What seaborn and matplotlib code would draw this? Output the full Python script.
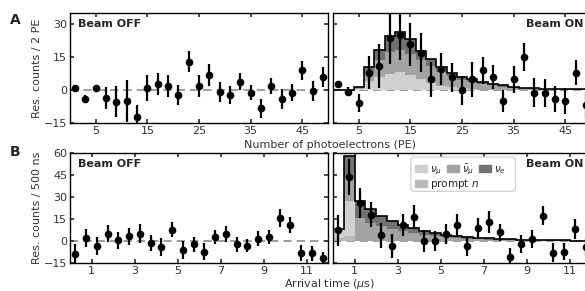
import numpy as np
import pandas as pd
import matplotlib
matplotlib.use("Agg")
import matplotlib.pyplot as plt
import seaborn as sns
from matplotlib.patches import Patch, FancyBboxPatch

# ---- data: photoelectron spectrum (2 PE bins) ----
pe_centers = np.arange(1, 50, 2)
pe_edges = list(range(0, 51, 2))

pe_off = [1, -4, 1, -3.5, -5.3, -5, -12.3, 1, 2.8, 1.8, -2.3, 12.8, 1.8, 6.8, -1, -2.3, 3.8, -1.2, -8.3, 1.8, -4.2, -1.2, 8.9, -0.5, 5.9]
pe_off_err = [0.8, 1.6, 0.8, 5, 7, 9.5, 5.5, 6, 5, 4.8, 4.6, 4.8, 4.8, 4.9, 4.5, 4, 4, 3.5, 4.4, 3.6, 4.5, 4, 4.5, 4.5, 4.5]

pe_on = [2.9, -0.8, -6, 7.9, 10.9, 23.8, 24.8, 20.8, 17, 4.8, 9.7, 5.9, -0.2, 4.8, 8.9, 5.9, -5, 4.8, 15, -1.2, -1.2, -4.2, -5, 7.9, -7]
pe_on_err = [1.2, 2, 4, 7.6, 10, 12, 11.3, 9.8, 8.9, 8, 7.2, 6.6, 6.4, 7.8, 6.2, 5.3, 4.9, 6.3, 6.2, 6.7, 6.4, 5.8, 5.7, 5.8, 6]

pe_numu = [0, 0, 0.6, 4.0, 5.9, 7.3, 8.0, 6.8, 4.8, 3.0, 2.0, 1.2, 0.7, 0.4, 0.2, 0.1, 0, 0, 0, 0, 0, 0, 0, 0, 0]
pe_numubar = [0, 0, 0.4, 3.5, 7.6, 10.2, 10.0, 9.7, 8.7, 8.0, 6.3, 5.0, 3.9, 3.2, 2.6, 2.0, 1.5, 1.0, 0.7, 0.5, 0.4, 0.3, 0.2, 0.2, 0.1]
pe_nue = [0, 0, 0.4, 3.1, 4.7, 7.0, 8.4, 6.5, 4.2, 2.9, 2.2, 1.7, 1.3, 1.2, 1.0, 0.8, 0.6, 0.5, 0.3, 0.3, 0.2, 0.2, 0.2, 0.1, 0.2]

# ---- data: arrival time (500 ns bins) ----
t_centers = np.arange(0.25, 12, 0.5)
t_edges = [i * 0.5 for i in range(25)]

t_off = [-9, 2, -3.3, 5, 0.4, 3.1, 5, -1.5, -4.2, 7.7, -6, -2.2, -7.2, 2.7, 5, -2.2, -3.3, 1.5, 2.7, 15.7, 11, -8.3, -8.3, -11.8]
t_off_err = [7, 6.2, 6, 6, 6, 6, 6.3, 5.5, 6, 5, 6, 5, 5.5, 5, 5.5, 5, 4.5, 5, 5, 6, 5.5, 5.4, 5, 4.6]

t_on = [7.3, 43.7, 26, 18, 3.8, -3.3, 11.1, 16.2, 0, 0, 4.7, 11.1, -3.3, 8.9, 13, 5.9, -11.1, -2.2, 1.3, 17.3, -7.9, -7.2, 8.2, -4]
t_on_err = [10.5, 12, 10, 8.6, 8.6, 8.4, 7.5, 8.3, 7.8, 6.5, 7, 7.5, 7, 6.7, 7.5, 5.7, 6.5, 6.3, 6, 6.7, 6.5, 6, 7, 6]

t_numu = [6.0, 24.0, 0, 0, 0, 0, 0, 0, 0, 0, 0, 0, 0, 0, 0, 0, 0, 0, 0, 0, 0, 0, 0, 0]
t_prompt_n = [2.0, 3.2, 0, 0, 0, 0, 0, 0, 0, 0, 0, 0, 0, 0, 0, 0, 0, 0, 0, 0, 0, 0, 0, 0]
t_numubar = [0, 16.5, 15.8, 12.5, 10.0, 8.1, 6.5, 5.2, 4.1, 3.1, 2.5, 2.0, 1.6, 1.3, 1.0, 0.8, 0.6, 0.5, 0.4, 0.35, 0.3, 0.2, 0.2, 0.2]
t_nue = [0, 14.0, 11.4, 9.0, 7.3, 5.8, 4.7, 3.7, 2.9, 2.3, 1.8, 1.5, 1.2, 0.9, 0.8, 0.6, 0.5, 0.4, 0.3, 0.25, 0.2, 0.2, 0.1, 0.1]

comp_colors = {"numu": "#d0d0d0", "prompt": "#bababa", "numubar": "#a3a3a3", "nue": "#727272"}

sns.set_theme(style="ticks")
plt.rcParams["font.family"] = ["DejaVu Sans"]
plt.rcParams.update({
    "xtick.direction": "in", "ytick.direction": "in",
    "xtick.top": True, "ytick.right": True,
    "xtick.labelsize": 8, "ytick.labelsize": 8,
    "axes.linewidth": 1.0, "axes.edgecolor": "black",
    "xtick.major.size": 3, "ytick.major.size": 3,
    "xtick.color": "#333333", "ytick.color": "#333333",
})

fig = plt.figure(figsize=(5.85, 2.91), dpi=100)
W, H = 585, 291


def add_ax(x0, y0, w, h):
    return fig.add_axes([x0 / W, 1 - (y0 + h) / H, w / W, h / H])


axA0 = add_ax(70, 13, 258, 110)
axA1 = add_ax(333, 13, 258, 110)
axB0 = add_ax(70, 153, 258, 110)
axB1 = add_ax(333, 153, 258, 110)


def stack(ax, centers, edges, comps, order):
    rows = []
    for name in order:
        for c, v in zip(centers, comps[name]):
            rows.append({"x": c, "w": v, "comp": name})
    df = pd.DataFrame(rows)
    sns.histplot(data=df, x="x", weights="w", hue="comp", hue_order=order[::-1],
                 multiple="stack", bins=edges, element="step", fill=True,
                 palette=comp_colors, alpha=1, linewidth=0, legend=False, ax=ax)
    total = np.sum([comps[n] for n in order], axis=0)
    ax.stairs(total, edges, baseline=None, color="black", lw=1.2, zorder=3)


def points(ax, x, y, e):
    ax.axhline(0, color="#8c8c8c", ls=(0, (5, 3)), lw=1.2, zorder=0.5)
    ax.errorbar(x, y, yerr=e, fmt="o", color="black", ms=4.5, elinewidth=1.6,
                capsize=0, zorder=4)


stack(axA1, pe_centers, pe_edges,
      {"numu": pe_numu, "numubar": pe_numubar, "nue": pe_nue},
      ["numu", "numubar", "nue"])
stack(axB1, t_centers, t_edges,
      {"numu": t_numu, "prompt": t_prompt_n, "numubar": t_numubar, "nue": t_nue},
      ["prompt", "numu", "numubar", "nue"])

points(axA0, pe_centers, pe_off, pe_off_err)
points(axA1, pe_centers, pe_on, pe_on_err)
points(axB0, t_centers, t_off, t_off_err)
points(axB1, t_centers, t_on, t_on_err)

for ax in (axA0, axA1):
    ax.set_xlim(0, 50)
    ax.set_ylim(-15, 35)
    ax.set_xticks([5, 15, 25, 35, 45])
    ax.set_yticks([-15, 0, 15, 30])
for ax in (axB0, axB1):
    ax.set_xlim(0, 12)
    ax.set_ylim(-15, 60)
    ax.set_xticks([1, 3, 5, 7, 9, 11])
    ax.set_yticks([-15, 0, 15, 30, 45, 60])
for ax in (axA0, axA1, axB0, axB1):
    ax.set_xlabel("")
    ax.set_ylabel("")
    ax.tick_params(pad=2)
for ax in (axA1, axB1):
    ax.set_yticklabels([])

axA0.set_ylabel("Res. counts / 2 PE", fontsize=8, color="#333333", labelpad=1)
axB0.set_ylabel("Res. counts / 500 ns", fontsize=8, color="#333333", labelpad=1)

for ax in (axA0, axB0):
    ax.text(0.03, 0.9, "Beam OFF", transform=ax.transAxes, fontsize=8,
            fontweight="bold", ha="left", va="center")
for ax in (axA1, axB1):
    ax.text(0.97, 0.9, "Beam ON", transform=ax.transAxes, fontsize=8,
            fontweight="bold", ha="right", va="center")

fig.text(330 / W, 1 - 145 / H, "Number of photoelectrons (PE)", fontsize=8,
         ha="center", va="center", color="#333333")
fig.text(330 / W, 1 - 284 / H, r"Arrival time ($\mu$s)", fontsize=8,
         ha="center", va="center", color="#333333")
fig.text(15 / W, 1 - 20 / H, "A", fontsize=10, fontweight="bold", ha="center", va="center")
fig.text(15 / W, 1 - 152 / H, "B", fontsize=10, fontweight="bold", ha="center", va="center")

# legend: three flavours on the first row, prompt n on the second, one shared frame
h_numu = Patch(color=comp_colors["numu"], label=r"$\nu_\mu$")
h_prompt = Patch(color=comp_colors["prompt"], label=r"prompt $n$")
h_numubar = Patch(color=comp_colors["numubar"], label=r"$\bar{\nu}_\mu$")
h_nue = Patch(color=comp_colors["nue"], label=r"$\nu_e$")
leg_kw = dict(fontsize=7.5, handlelength=1.1, handleheight=0.7, handletextpad=0.3,
              columnspacing=0.5, labelspacing=0.25, borderpad=0.35, frameon=False)
frame = FancyBboxPatch((0.302, 0.652), 0.405, 0.312, transform=axB1.transAxes,
                       boxstyle="round,pad=0,rounding_size=0.012",
                       mutation_aspect=258 / 110, fc="white", ec="#cccccc",
                       lw=0.8, zorder=4.5)
axB1.add_patch(frame)
leg1 = axB1.legend(handles=[h_numu, h_numubar, h_nue], ncol=3, loc="upper left",
                   bbox_to_anchor=(0.285, 0.995), **leg_kw)
axB1.add_artist(leg1)
axB1.legend(handles=[h_prompt], loc="upper left", bbox_to_anchor=(0.285, 0.995 - 0.135),
            **leg_kw)

fig.savefig("out.png", dpi=100)
